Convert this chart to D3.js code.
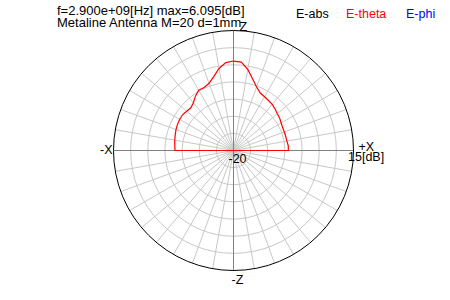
<!DOCTYPE html>
<html>
<head>
<meta charset="utf-8">
<script src="https://cdn.jsdelivr.net/npm/d3@7"></script>
<style>
	body { margin: 0; background: #fff; }
	text { font-family: "Liberation Sans", Arial, sans-serif; }
</style>
</head>
<body>
<div id="chart"></div>
<script>
const width = 450;
const height = 300;

// pattern: theta (deg from +Z toward +X) and E-theta gain in dB
const thetaDeg = [-90, -85, -80, -75, -70, -65, -60, -55, -50, -45, -40, -35, -30, -25, -20, -15, -10, -5, 0,
	5, 10, 15, 20, 25, 30, 35, 40, 45, 50, 55, 60, 65, 70, 75, 80, 85, 90];
const eTheta = [-2.94, -2.8, -2.6, -2.4, -2.15, -1.97, -1.87, -1.85, -2.2, -2.4, -1.8, -0.65, 0.3, 0.28, 0.85, 2.3, 4.3, 5.75, 6.095,
	5.9, 4.0, 1.6, -0.3, -1.5, -1.9, -2.2, -2.45, -2.85, -3.3, -3.55, -3.95, -4.18, -4.22, -4.22, -4.2, -3.96, -4.0];

const ringsDb = [-15, -10, -5, 0, 5, 10];
const spokesDeg = d3.range(0, 360, 10);
const dbMin = -20;
const dbMax = 15;

const titleLines = ["f=2.900e+09[Hz] max=6.095[dB]", "Metaline Antenna M=20 d=1mm"];
const legendNames = ["E-abs", "E-theta", "E-phi"];
const legendColors = ["#000000", "#ff0000", "#0000ff"];

const cx = 233.5, cy = 150.5, R = 120;

const r = d3.scaleLinear().domain([dbMin, dbMax]).range([0, R]).clamp(true);

const svg = d3.select("#chart")
	.append("svg")
	.attr("width", width)
	.attr("height", height);

const g = svg.append("g")
	.attr("transform", `translate(${cx},${cy})`);

// grid rings
g.append("g")
	.selectAll("circle")
	.data(ringsDb)
	.enter()
	.append("circle")
	.attr("r", d => r(d))
	.attr("fill", "none")
	.attr("stroke", "#c8c8c8")
	.attr("stroke-width", 1);

// spokes
g.append("g")
	.selectAll("line")
	.data(spokesDeg.filter(d => d % 90 !== 0))
	.enter()
	.append("line")
	.attr("x1", 0)
	.attr("y1", 0)
	.attr("x2", d => R * Math.sin(d * Math.PI / 180))
	.attr("y2", d => -R * Math.cos(d * Math.PI / 180))
	.attr("stroke", "#c8c8c8")
	.attr("stroke-width", 1);

// main axes
g.append("line")
	.attr("x1", -R).attr("x2", R).attr("y1", 0).attr("y2", 0)
	.attr("stroke", "#808080")
	.attr("shape-rendering", "crispEdges");
g.append("line")
	.attr("x1", 0).attr("x2", 0).attr("y1", -R).attr("y2", R)
	.attr("stroke", "#808080")
	.attr("shape-rendering", "crispEdges");

// outer circle
g.append("circle")
	.attr("r", r(dbMax))
	.attr("fill", "none")
	.attr("stroke", "#000")
	.attr("stroke-width", 1);

// E-theta pattern, lower half below floor -> closes through centre
const pts = thetaDeg.map((t, i) => [t, eTheta[i]]);
pts.push([180, dbMin]);

const line = d3.lineRadial()
	.angle(d => d[0] * Math.PI / 180)
	.radius(d => r(d[1]))
	.curve(d3.curveLinearClosed);

g.append("path")
	.datum(pts)
	.attr("d", line)
	.attr("fill", "none")
	.attr("stroke", "#ff0000")
	.attr("stroke-width", 1.2);

// axis labels
const labels = [
	{ t: "Z", x: 6, y: -R, anchor: "start" },
	{ t: "-Z", x: -2, y: R + 13, anchor: "start" },
	{ t: "-X", x: -R - 1, y: 3, anchor: "end" },
	{ t: "+X", x: R + 5, y: 0, anchor: "start" },
	{ t: "-20", x: -5, y: 12, anchor: "start" },
	{ t: "15[dB]", x: R - 5.5, y: 10, anchor: "start" }
];
g.append("g")
	.selectAll("text")
	.data(labels)
	.enter()
	.append("text")
	.attr("x", d => d.x)
	.attr("y", d => d.y)
	.attr("text-anchor", d => d.anchor)
	.attr("font-size", 12.5)
	.attr("fill", "#000")
	.text(d => d.t);

// title
svg.append("g")
	.selectAll("text")
	.data(titleLines)
	.enter()
	.append("text")
	.attr("x", 57)
	.attr("y", (d, i) => 15 + i * 12)
	.attr("font-size", 13)
	.attr("fill", "#000")
	.text(d => d);

// legend
const legendX = [296, 346, 406];
svg.append("g")
	.selectAll("text")
	.data(legendNames)
	.enter()
	.append("text")
	.attr("x", (d, i) => legendX[i])
	.attr("y", 18)
	.attr("font-size", 12.5)
	.attr("fill", (d, i) => legendColors[i])
	.text(d => d);
</script>
</body>
</html>
